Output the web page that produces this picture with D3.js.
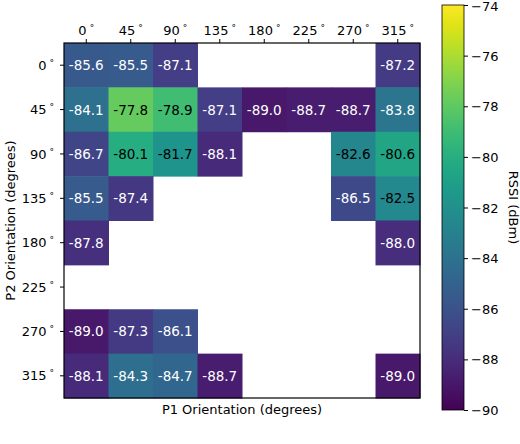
<!DOCTYPE html>
<html><head><meta charset="utf-8">
<script src="https://cdn.jsdelivr.net/npm/d3@7"></script>
<style>body{margin:0;background:#fff}svg{display:block;font-family:"DejaVu Sans",sans-serif}</style>
</head><body>
<svg id="c" width="520" height="444"></svg>
<script>
const p1Labels = ["0","45","90","135","180","225","270","315"];
const p2Labels = ["0","45","90","135","180","225","270","315"];
const row0   = [-85.6, -85.5, -87.1, null, null, null, null, -87.2];
const row45  = [-84.1, -77.8, -78.9, -87.1, -89.0, -88.7, -88.7, -83.8];
const row90  = [-86.7, -80.1, -81.7, -88.1, null, null, -82.6, -80.6];
const row135 = [-85.5, -87.4, null, null, null, null, -86.5, -82.5];
const row180 = [-87.8, null, null, null, null, null, null, -88.0];
const row225 = [null, null, null, null, null, null, null, null];
const row270 = [-89.0, -87.3, -86.1, null, null, null, null, null];
const row315 = [-88.1, -84.3, -84.7, -88.7, null, null, null, -89.0];
const rows = [row0,row45,row90,row135,row180,row225,row270,row315];
const cbTicks = [-90,-88,-86,-84,-82,-80,-78,-76,-74];
const vmin = -90, vmax = -74;

const svg = d3.select("#c");
const L=64,R=420,T=43,B=398;
const x = d3.scaleBand().domain(p1Labels).range([L,R]);
const y = d3.scaleBand().domain(p2Labels).range([T,B]);
const color = d3.scaleSequential(d3.interpolateViridis).domain([vmin,vmax]);

const cells=[];
rows.forEach((r,i)=>r.forEach((v,j)=>{ if(v!==null) cells.push({p2:p2Labels[i],p1:p1Labels[j],v}); }));
const g=svg.append("g");
g.selectAll("rect").data(cells).join("rect")
 .attr("x",d=>x(d.p1)).attr("y",d=>y(d.p2))
 .attr("width",x.bandwidth()+0.5).attr("height",y.bandwidth()+0.5)
 .attr("fill",d=>color(d.v));
g.selectAll("text").data(cells).join("text")
 .attr("x",d=>x(d.p1)+x.bandwidth()/2).attr("y",d=>y(d.p2)+y.bandwidth()/2)
 .attr("text-anchor","middle").attr("dominant-baseline","central")
 .attr("font-size",13.5).attr("fill",d=>d.v>-83?"#000":"#fff")
 .text(d=>d.v.toFixed(1));

svg.append("rect").attr("x",L).attr("y",T).attr("width",R-L).attr("height",B-T)
 .attr("fill","none").attr("stroke","#000").attr("stroke-width",1.2);

function deg(sel){
  sel.each(function(d){
    const t=d3.select(this); t.text(null);
    t.append("tspan").text(d);
    t.append("tspan").attr("dx",3).attr("dy",-4).attr("font-size",9).text("°");
  });
}
const xa = svg.append("g").attr("transform",`translate(0,${T})`).call(d3.axisTop(x).tickSize(4).tickPadding(4));
xa.select(".domain").remove();
xa.selectAll("text").attr("font-size",13).attr("fill","#000").attr("font-family","DejaVu Sans").call(deg);
const ya = svg.append("g").attr("transform",`translate(${L},0)`).call(d3.axisLeft(y).tickSize(4).tickPadding(6));
ya.select(".domain").remove();
ya.selectAll("text").attr("font-size",13).attr("fill","#000").attr("font-family","DejaVu Sans").attr("dy","0.35em").call(deg);

svg.append("text").attr("x",(L+R)/2).attr("y",414).attr("text-anchor","middle").attr("font-size",13).text("P1 Orientation (degrees)");
svg.append("text").attr("transform",`translate(15,${(T+B)/2}) rotate(-90)`).attr("text-anchor","middle").attr("font-size",13).text("P2 Orientation (degrees)");

// colorbar
const cbL=442,cbR=464,cbT=5,cbB=410;
const cy = d3.scaleLinear().domain([vmin,vmax]).range([cbB,cbT]);
const defs=svg.append("defs");
const grad=defs.append("linearGradient").attr("id","vg").attr("x1",0).attr("y1",1).attr("x2",0).attr("y2",0);
d3.range(0,1.0001,0.05).forEach(t=>grad.append("stop").attr("offset",t).attr("stop-color",color(vmin+t*(vmax-vmin))));
svg.append("rect").attr("x",cbL).attr("y",cbT).attr("width",cbR-cbL).attr("height",cbB-cbT).attr("fill","url(#vg)").attr("stroke","#000").attr("stroke-width",0.8);
const ca=svg.append("g").attr("transform",`translate(${cbR},0)`).call(d3.axisRight(cy).tickValues(cbTicks).tickSize(4).tickPadding(3).tickFormat(d=>"\u2212"+Math.abs(d)));
ca.select(".domain").remove();
ca.selectAll("text").attr("font-size",13).attr("fill","#000").attr("font-family","DejaVu Sans").attr("dy","0.35em");
ca.selectAll(".tick").filter(d=>d===vmax).select("text").attr("dy","0.45em");
svg.append("text").attr("transform",`translate(509,${(cbT+cbB)/2}) rotate(90)`).attr("text-anchor","middle").attr("font-size",13).text("RSSI (dBm)");
</script>
</body></html>
